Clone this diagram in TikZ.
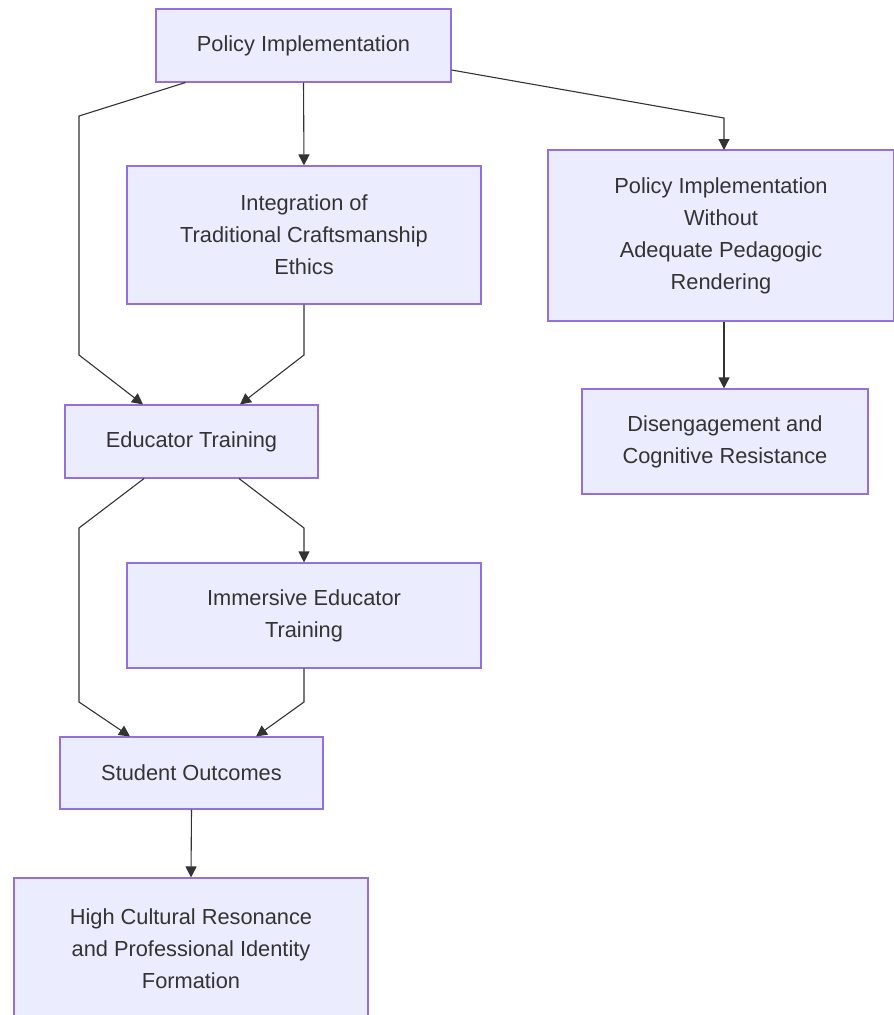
\documentclass[tikz,border=0pt]{standalone}
\usepackage{fontspec}
\setmainfont{Liberation Sans}
\usetikzlibrary{arrows.meta}
\definecolor{boxfill}{HTML}{ECECFF}
\definecolor{boxline}{HTML}{9370DB}
\definecolor{edgecol}{HTML}{333333}
\begin{document}
\begin{tikzpicture}[x=1pt, y=-1pt,
  box/.style={draw=boxline, fill=boxfill, line width=1.1pt, text=edgecol, align=center, inner sep=0pt, font=\fontsize{21.8}{32}\selectfont},
  flow/.style={draw=edgecol, line width=1.1pt, -{Triangle[length=11pt,width=11pt]}}]
\clip (0,0) rectangle (894,1015);
\node[box, minimum width=295pt, minimum height=73pt] (pol) at (303.5,45.5){Policy Implementation};
\node[box, minimum width=354pt, minimum height=138pt] (integ) at (304,235){Integration of\\Traditional Craftsmanship\\Ethics};
\node[box, minimum width=346pt, minimum height=171pt] (nopeda) at (721,235.5){Policy Implementation\\Without\\Adequate Pedagogic\\Rendering};
\node[box, minimum width=286pt, minimum height=105pt] (diseng) at (725,441.5){Disengagement and\\Cognitive Resistance};
\node[box, minimum width=253pt, minimum height=73pt] (edu) at (191.5,441.5){Educator Training};
\node[box, minimum width=354pt, minimum height=105pt] (immer) at (304,615.5){Immersive Educator\\Training};
\node[box, minimum width=263pt, minimum height=72pt] (stud) at (191.5,773){Student Outcomes};
\node[box, minimum width=354pt, minimum height=141pt] (reson) at (191,948.5){High Cultural Resonance\\and Professional Identity\\Formation};
\draw[flow] ([xshift=30pt]pol.south west) -- (79,116) -- (79,355) -- ([xshift=-48.5pt]edu.north);
\draw[flow] (pol.south) -- (integ.north);
\draw[flow] (pol.east |- 0,70) -- (724,118) -- (724,150);
\draw[flow] (integ.south) -- (304,355) -- ([xshift=48.5pt]edu.north);
\draw[flow] (nopeda.south -| 724,0) -- (diseng.north -| 724,0);
\draw[flow] ([xshift=-47.5pt]edu.south) -- (79,528) -- (79,702) -- ([xshift=-61.5pt]stud.north);
\draw[flow] ([xshift=47.5pt]edu.south) -- (304,528) -- (immer.north);
\draw[flow] (immer.south) -- (304,702) -- ([xshift=64.5pt]stud.north);
\draw[flow] (stud.south) -- (reson.north);
\end{tikzpicture}
\end{document}
